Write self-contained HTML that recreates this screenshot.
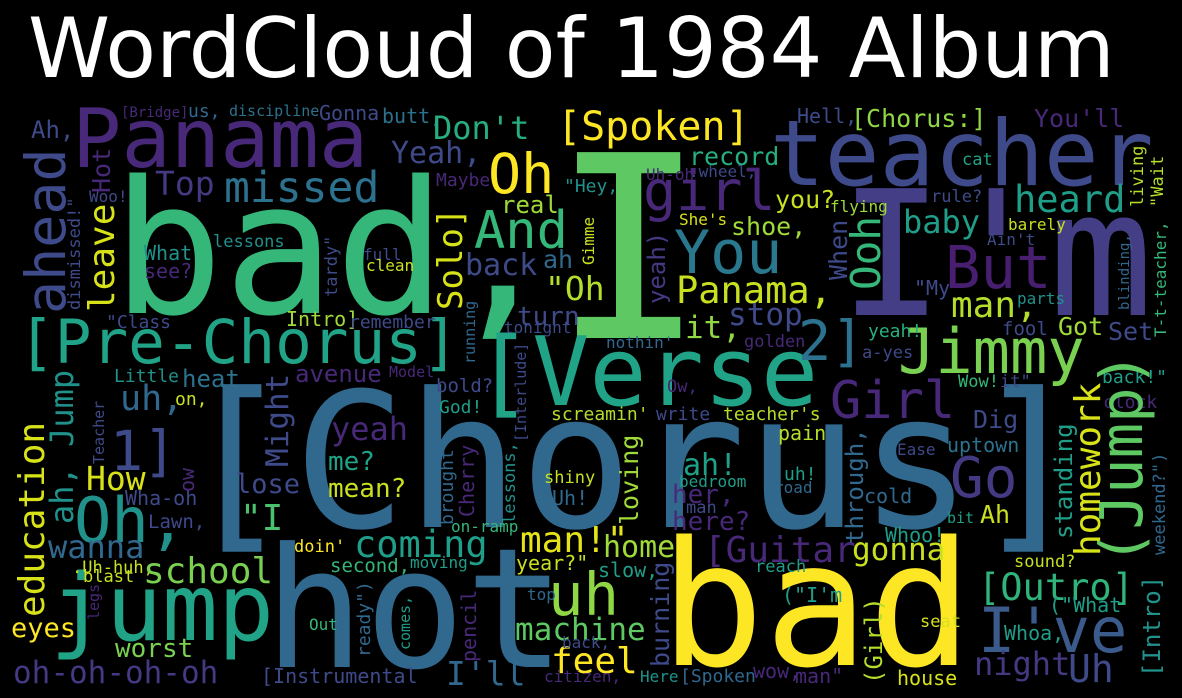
<!DOCTYPE html>
<html><head><meta charset="utf-8"><style>
html,body{margin:0;padding:0;background:#000;width:1182px;height:698px;overflow:hidden}
svg text{font-family:"DejaVu Sans Mono","Liberation Mono",monospace}
</style></head><body>
<svg width="1182" height="698" viewBox="0 0 1182 698" xmlns="http://www.w3.org/2000/svg">
<rect width="1182" height="698" fill="#000"/>
<text x="28" y="77" fill="#fff" font-size="83" style="font-family:'DejaVu Sans','Liberation Sans',sans-serif">WordCloud of 1984 Album</text>
<g id="words"></g>
</svg>
<script>
// word, x, baseline y, font size, color
const words = [
["[Chorus]",180,527,188,"#31688e"],
["bad,",112,313,185,"#35b779"],
["I",552,338,255,"#5ec962"],
["hot",264,667,167,"#31688e"],
["bad",660,665,173,"#fde725"],
["I'm",839,315,174,"#433e85"],
["teacher",770,185,91,"#3e4a89"],
["Panama",72,167,82,"#482878"],
["[Pre-Chorus]",18,363,61,"#20a386"],
["[Verse",475,405,95,"#20a386"],
["2]",798,360,55,"#2c728e"],
["Jimmy",898,373,62,"#7ad151"],
["But",945,288,59,"#481f70"],
["Oh,",74,542,62,"#21918c"],
["1]",110,470,55,"#3e4a89"],
["uh",548,615,59,"#8fd744"],
["Go",950,497,56,"#443983"],
["Girl",830,418,52,"#482878"],
["You",674,273,60,"#29788e"],
["girl",643,210,55,"#482878"],
["And",474,248,52,"#35b779"],
["Oh",488,193,55,"#fde725"],
["I've",978,652,62,"#3b5b8c"],
["jump",50,640,93,"#20a386"],
["Ah,",31,138,24,"#3e4a89"],
["[Bridge]",121,117,14,"#482878"],
["us,",188,117,18,"#31688e"],
["discipline",229,116,15,"#2c728e"],
["Gonna",319,120,20,"#3e4a89"],
["butt,",382,123,20,"#2c728e"],
["Don't",433,139,32,"#26ad81"],
["[Spoken]",557,140,40,"#fde725"],
["Yeah,",391,163,30,"#3e4a89"],
["Maybe",436,186,18,"#482878"],
["\"Hey,",564,192,18,"#21918c"],
["real",501,213,24,"#a0da39"],
["back",465,275,30,"#3e4a89"],
["ah",543,268,25,"#31688e"],
["\"Oh",545,300,33,"#b5de2b"],
["turn",517,325,26,"#3e4a89"],
["tonight",504,333,16,"#3e4a89"],
["nothin'",606,348,16,"#31688e"],
["Uh-oh",646,180,16,"#482878"],
[".wheel,",689,177,16,"#3e4a89"],
["She's",679,225,16,"#d8e219"],
["Top",155,195,33,"#443983"],
["missed",224,202,43,"#2c728e"],
["Woo!",89,202,16,"#3e4a89"],
["lessons",213,247,17,"#21918c"],
["What",144,260,20,"#21918c"],
["see?",144,278,20,"#482878"],
["full",363,260,16,"#3e4a89"],
["clean",366,271,16,"#c8e020"],
["\"Class",106,328,18,"#3e4a89"],
["Intro]",286,326,20,"#a0da39"],
["remember",349,328,18,"#3e4a89"],
["Little",114,382,18,"#21918c"],
["heat",182,387,24,"#2c728e"],
["avenue",295,382,24,"#482878"],
["Model",389,377,15,"#482878"],
["bold?",436,392,19,"#3e4a89"],
["Panama,",676,303,37,"#c8e020"],
["it,",685,338,31,"#8fd744"],
["stop",728,325,31,"#3e4a89"],
["golden",744,347,17,"#482878"],
["Hell,",797,123,20,"#3e4a89"],
["[Chorus:]",851,127,25,"#8fd744"],
["You'll",1034,127,25,"#482878"],
["record",689,165,25,"#26ad81"],
["cat",962,165,17,"#20a386"],
["heard",1014,212,37,"#1f9e89"],
["rule?",931,202,17,"#3e4a89"],
["flying",830,212,16,"#a0da39"],
["shoe,",731,235,25,"#a0da39"],
["you?",775,208,25,"#c8e020"],
["baby",903,233,32,"#1f9e89"],
["barely",1008,230,16,"#c8e020"],
["Ain't",987,245,16,"#3e4a89"],
["\"My",914,295,20,"#3e4a89"],
["parts",1017,304,16,"#21918c"],
["man,",951,317,36,"#b5de2b"],
["fool",1002,335,19,"#3e4a89"],
["Got",1058,335,25,"#a0da39"],
["Set",1108,340,25,"#3e4a89"],
["yeah!",868,337,18,"#29af7f"],
["a-yes",862,358,17,"#3e4a89"],
["back!\"",1102,383,18,"#1f9e89"],
["Wow!",958,387,17,"#35b779"],
["it\"",1000,387,17,"#3e4a89"],
["Ow,",667,392,17,"#482878"],
["uh,",120,410,35,"#31688e"],
["on,",175,405,18,"#c8e020"],
["How",86,490,33,"#d8e219"],
["Wha-oh",125,505,20,"#3e4a89"],
["Lawn,",148,528,19,"#3e4a89"],
["wanna",48,558,32,"#31688e"],
[".Uh-huh,",72,573,17,"#c8e020"],
["blast",83,582,17,"#c8e020"],
["school",143,583,36,"#7ad151"],
["eyes",11,637,27,"#fde725"],
["worst",115,657,26,"#7ad151"],
["oh-oh-oh-oh",13,683,31,"#443983"],
["yeah",331,440,32,"#482878"],
["me?",328,470,26,"#20a386"],
["mean?",328,497,26,"#c8e020"],
["lose",235,493,27,"#3e4a89"],
["\"I",240,530,36,"#4ac16d"],
["doin'",294,552,17,"#fde725"],
["coming",354,557,37,"#1f9e89"],
["second,",330,572,19,"#35b779"],
["moving",410,568,16,"#1f9e89"],
["on-ramp",451,532,16,"#35b779"],
["shiny",544,483,17,"#c8e020"],
["Uh!",552,505,20,"#31688e"],
["Out",309,630,16,"#35b779"],
["[Instrumental",261,683,20,"#3e4a89"],
["I'll",446,685,33,"#31688e"],
["top",527,600,16,"#31688e"],
["year?\"",516,570,20,"#c8e020"],
["man!\"",520,552,36,"#e5e419"],
["machine",515,640,31,"#5ec962"],
["feel",551,673,36,"#fde725"],
["back,",562,648,16,"#3e4a89"],
["citizen,",544,682,16,"#482878"],
["God!",439,413,18,"#1f9e89"],
["screamin'",551,420,18,"#b5de2b"],
["write",656,420,18,"#3e4a89"],
["teacher's",723,420,18,"#b5de2b"],
["Dig",973,428,25,"#3e4a89"],
["clock",1103,408,18,"#482878"],
["pain",778,440,20,"#b5de2b"],
["uptown",947,452,20,"#2c728e"],
["Ease",897,455,16,"#3e4a89"],
["ah!",683,475,30,"#1fa187"],
["uh!",784,480,18,"#1f9e89"],
["bedroom",679,487,16,"#1f9e89"],
["road",774,493,16,"#31688e"],
["her,",672,503,26,"#482878"],
["man",686,513,17,"#3e4a89"],
["here?",672,530,26,"#482878"],
["cold",864,503,20,"#31688e"],
["Ah",980,523,25,"#c8e020"],
["bit",947,523,15,"#1f9e89"],
["Whoo!",885,542,20,"#1f9e89"],
["home",603,557,30,"#a0da39"],
["[Guitar",704,562,36,"#482878"],
["gonna",852,560,31,"#c8e020"],
["slow,",598,577,20,"#1f9e89"],
["reach",755,572,17,"#1f9e89"],
["sound?",1014,567,17,"#c8e020"],
["[Outro]",978,600,37,"#2fb47c"],
["(\"I'm",782,602,20,"#1f9e89"],
["(\"What",1049,612,20,"#1f9e89"],
["seat",920,627,17,"#d8e219"],
["Whoa,",1004,640,20,"#1f9e89"],
["night",974,675,32,"#443983"],
["Uh",1068,682,38,"#3e4a89"],
["Here",640,682,16,"#21918c"],
["[Spoken",680,682,18,"#31688e"],
["wow,",753,678,20,"#482878"],
["man\"",795,683,20,"#482878"],
["house",897,685,20,"#d8e219"]
];
// vertical words: word, baseline x, bottom y, font size, color
const vwords = [
["(Jump)",1142,565,59,"#5ec962"],
["ahead",65,314,55,"#3e4a89"],
["Hot",110,193,25,"#482878"],
["leave",114,312,36,"#d8e219"],
["dismissed!\"",80,310,17,"#3e4a89"],
["tardy\"",337,297,17,"#3e4a89"],
["Solo]",462,310,34,"#d8e219"],
["Gimme",594,265,16,"#c8e020"],
["running",475,364,15,"#31688e"],
["[Interlude]",526,442,15,"#3e4a89"],
["yeah)",665,304,24,"#443983"],
["living",1143,207,17,"#b5de2b"],
["\"Wait",1163,207,17,"#b5de2b"],
["T-t-teacher,",1166,337,16,"#35b779"],
["blinding,",1129,310,14,"#31688e"],
["When",847,280,25,"#3e4a89"],
["Ooh",880,290,41,"#35b779"],
["education",44,617,36,"#d8e219"],
["ah, Jump",73,524,32,"#21918c"],
["Teacher",104,464,15,"#3e4a89"],
["ow",194,492,20,"#482878"],
["Might",288,467,31,"#3e4a89"],
["legs",99,620,15,"#482878"],
["brought",453,525,18,"#31688e"],
["Cherry",474,517,20,"#482878"],
["lessons,",515,524,17,"#21918c"],
["ready\")",370,657,18,"#31688e"],
["comes,",410,650,15,"#1f9e89"],
["pencil",476,662,20,"#482878"],
["homework",1100,556,36,"#d8e219"],
["standing",1072,539,24,"#1f9e89"],
["weekend?\")",1165,555,17,"#31688e"],
["through,",863,544,24,"#31688e"],
["loving",638,525,25,"#a0da39"],
["burning",669,667,25,"#3e4a89"],
["(Girl)",882,684,24,"#b5de2b"],
["[Intro]",1160,677,24,"#21918c"]
];
const g = document.getElementById('words');
const NS = 'http://www.w3.org/2000/svg';
for (const w of words) {
  const t = document.createElementNS(NS,'text');
  
  
  t.setAttribute('x', w[1]); t.setAttribute('y', w[2]);
  t.setAttribute('font-size', w[3]); t.setAttribute('fill', w[4]);
  t.textContent = w[0];
  g.appendChild(t);
}
for (const w of vwords) {
  const t = document.createElementNS(NS,'text');
  
  
  t.setAttribute('x', 0); t.setAttribute('y', 0);
  t.setAttribute('transform', 'translate(' + w[1] + ',' + w[2] + ') rotate(-90)');
  t.setAttribute('font-size', w[3]); t.setAttribute('fill', w[4]);
  t.textContent = w[0];
  g.appendChild(t);
}
</script>
</body></html>
